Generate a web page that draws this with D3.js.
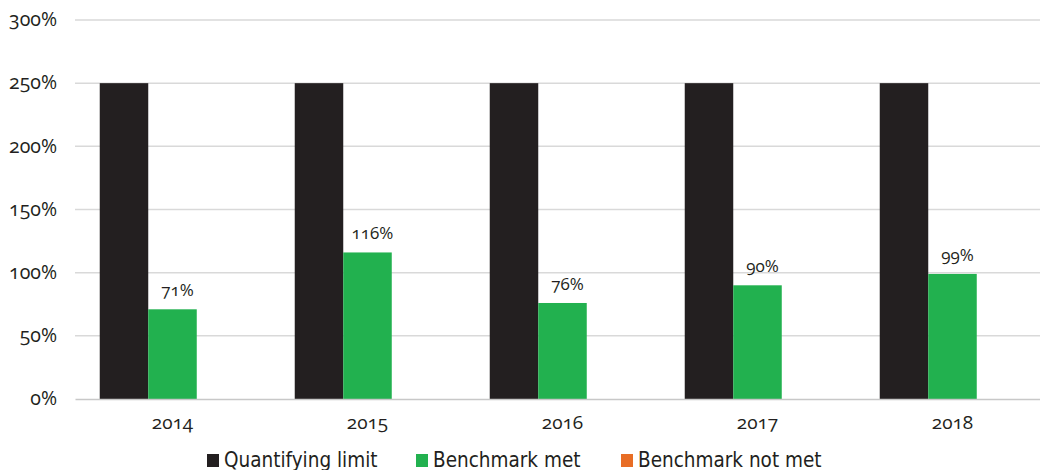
<!DOCTYPE html>
<html>
<head>
<meta charset="utf-8">
<script src="https://cdn.jsdelivr.net/npm/d3@7"></script>
<style>
  body { margin: 0; background: #fff; }
  svg text { font-family: "Open Sans", "Noto Sans", sans-serif; fill: #231f20; font-feature-settings: "onum"; font-variant-numeric: oldstyle-nums; }
  .legend text { font-family: "Liberation Sans Narrow", "DejaVu Sans Condensed", sans-serif; }
</style>
</head>
<body>
<svg id="chart" width="1040" height="470"></svg>
<script>
var years = ["2014", "2015", "2016", "2017", "2018"];
var seriesNames = ["Quantifying limit", "Benchmark met", "Benchmark not met"];
var seriesColors = ["#231f20", "#22b14f", "#e86d25"];
var quantifyingLimit = [250, 250, 250, 250, 250];
var benchmarkMet = [71, 116, 76, 90, 99];
var benchmarkNotMet = [0, 0, 0, 0, 0];
var yTicks = [0, 50, 100, 150, 200, 250, 300];

var svg = d3.select("#chart");
var margin = { left: 75, right: -10, top: 20, bottom: 71 };
var w = 1040, h = 470;

var rows = years.map(function(y, i) {
	return { year: y, values: [quantifyingLimit[i], benchmarkMet[i], benchmarkNotMet[i]] };
});

var x0 = d3.scaleBand().domain(years).range([margin.left, w - margin.right]);
var x1 = d3.scaleBand().domain(seriesNames).range([0, x0.bandwidth()]).paddingOuter(0.51);
var y = d3.scaleLinear().domain([0, 300]).range([h - margin.bottom, margin.top]);

// gridlines
svg.append("g").selectAll("line").data(yTicks.slice(1)).enter().append("line")
	.attr("x1", margin.left).attr("x2", w - margin.right)
	.attr("y1", function(d) { return y(d); }).attr("y2", function(d) { return y(d); })
	.attr("stroke", "#d9d9d9").attr("stroke-width", 1.5);

// y labels
svg.append("g").selectAll("text").data(yTicks).enter().append("text")
	.attr("x", 57).attr("y", function(d) { return y(d); })
	.attr("dy", "0.32em").attr("text-anchor", "end")
	.style("font-size", "19.5px")
	.text(function(d) { return d + "%"; });

// bars
var groups = svg.append("g").selectAll("g").data(rows).enter().append("g")
	.attr("transform", function(d) { return "translate(" + x0(d.year) + ",0)"; });

groups.selectAll("rect").data(function(d) {
	return d.values.map(function(v, i) { return { name: seriesNames[i], value: v, color: seriesColors[i] }; });
}).enter().append("rect")
	.attr("x", function(d) { return x1(d.name); })
	.attr("width", x1.bandwidth())
	.attr("y", function(d) { return y(d.value); })
	.attr("height", function(d) { return y(0) - y(d.value); })
	.attr("fill", function(d) { return d.color; });

// value labels on benchmark met
groups.append("text")
	.attr("x", function(d) { return x1(seriesNames[1]) + x1.bandwidth() / 2 + 5; })
	.attr("y", function(d) { return y(d.values[1]) - 13; })
	.attr("text-anchor", "middle")
	.style("font-size", "17px")
	.text(function(d) { return d.values[1] + "%"; });

// x axis
var xAxis = svg.append("g")
	.attr("transform", "translate(0," + y(0) + ")")
	.call(d3.axisBottom(x0).tickSize(0).tickPadding(17));
xAxis.attr("font-family", null).attr("font-size", null);
xAxis.select(".domain").attr("stroke", "#c8c8c8").attr("stroke-width", 1.5);
xAxis.selectAll("text").attr("fill", null).style("font-size", "19px");

// legend
var legendX = [207, 416, 621];
var legend = svg.append("g").attr("class", "legend").selectAll("g").data(seriesNames).enter().append("g")
	.attr("transform", function(d, i) { return "translate(" + legendX[i] + ",454)"; });
legend.append("rect").attr("width", 12).attr("height", 13)
	.attr("fill", function(d, i) { return seriesColors[i]; });
legend.append("text").attr("x", 17).attr("y", 5.5).attr("dy", "0.36em")
	.style("font-size", "20.5px")
	.text(function(d) { return d; });
</script>
</body>
</html>
